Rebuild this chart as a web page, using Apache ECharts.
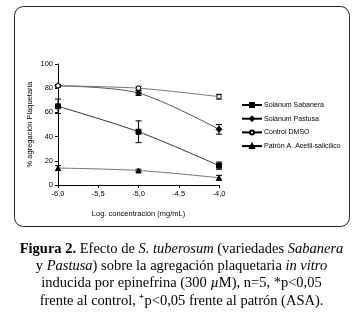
<!DOCTYPE html>
<html>
<head>
<meta charset="utf-8">
<script src="https://cdn.jsdelivr.net/npm/echarts@6/dist/echarts.min.js"></script>
<style>
  html, body { margin: 0; padding: 0; background: #fff; }
  #chart { width: 363px; height: 331px; }
</style>
</head>
<body>
<div id="chart"></div>
<script>
// log concentration (mg/mL)
var doses = [-6.0, -5.0, -4.0]
var seriesNames = ['Solanum Sabanera', 'Solanum Pastusa', 'Control DMSO', 'Patrón A. Acetil-salicilico']
var sabanera = [65, 44, 16]
var sabaneraErr = [6, 9, 3]
var pastusa = [82, 76, 46]
var pastusaErr = [1, 2, 4]
var control = [82, 80, 73]
var controlErr = [1, 1.5, 2]
var patron = [14, 12, 6]
var patronErr = [2, 1, 2]
var yTicks = [0, 20, 40, 60, 80, 100]

var captionLines = [
  '{b|Figura 2.} Efecto de {i|S. tuberosum} (variedades {i|Sabanera}',
  'y {i|Pastusa}) sobre la agregación plaquetaria {i|in vitro}',
  'inducida por epinefrina (300 {i|µ}M), n=5, *p<0,05',
  'frente al control, ⁺p<0,05 frente al patrón (ASA).'
]

var chart = echarts.init(document.getElementById('chart'))

function pairs (vals) {
  return vals.map(function (v, i) { return [doses[i], v] })
}

function errData (vals, errs) {
  return vals.map(function (v, i) { return [doses[i], v - errs[i], v + errs[i]] })
}

function errorSeries (vals, errs) {
  return {
    type: 'custom',
    silent: true,
    z: 3,
    data: errData(vals, errs),
    renderItem: function (params, api) {
      var lo = api.coord([api.value(0), api.value(1)])
      var hi = api.coord([api.value(0), api.value(2)])
      var w = 3
      var st = { stroke: '#000', lineWidth: 1 }
      return {
        type: 'group',
        children: [
          { type: 'line', shape: { x1: hi[0], y1: hi[1], x2: lo[0], y2: lo[1] }, style: st },
          { type: 'line', shape: { x1: hi[0] - w, y1: hi[1], x2: hi[0] + w, y2: hi[1] }, style: st },
          { type: 'line', shape: { x1: lo[0] - w, y1: lo[1], x2: lo[0] + w, y2: lo[1] }, style: st }
        ]
      }
    }
  }
}

function lineSeries (name, vals, symbol, size, lineColor, fill) {
  return {
    name: name,
    type: 'line',
    data: pairs(vals),
    smooth: 0.3,
    symbol: symbol,
    symbolSize: size,
    showSymbol: true,
    z: 4,
    lineStyle: { color: lineColor, width: 1 },
    itemStyle: { color: fill, borderColor: '#000', borderWidth: 1 }
  }
}

var tickFont = { fontFamily: 'Liberation Sans', fontSize: 7.5, color: '#000' }

var captionGraphics = captionLines.map(function (line, i) {
  return {
    type: 'text',
    x: 181.5,
    y: 249 + i * 17.3,
    silent: true,
    style: {
      text: line,
      align: 'center',
      verticalAlign: 'middle',
      fontFamily: 'Liberation Serif',
      fontSize: 14.5,
      fill: '#000',
      rich: {
        b: { fontFamily: 'Liberation Serif', fontSize: 14.5, fontWeight: 'bold' },
        i: { fontFamily: 'Liberation Serif', fontSize: 14.5, fontStyle: 'italic' }
      }
    }
  }
})

var option = {
  animation: false,
  backgroundColor: '#fff',
  grid: { left: 58, right: 144, top: 64, bottom: 146 },
  legend: {
    orient: 'vertical',
    left: 236,
    top: 96,
    itemGap: 5.7,
    itemWidth: 20,
    itemHeight: 5,
    textStyle: { fontFamily: 'Liberation Sans', fontSize: 7, lineHeight: 8, color: '#000', padding: [0, 0, 0, -3] },
    data: seriesNames.map(function (n) {
      return { name: n, itemStyle: { borderColor: '#000' }, lineStyle: { color: '#000' } }
    })
  },
  xAxis: {
    type: 'value',
    min: -6,
    max: -4,
    interval: 0.5,
    name: 'Log. concentración (mg/mL)',
    nameLocation: 'middle',
    nameGap: 25,
    nameTextStyle: { fontFamily: 'Liberation Sans', fontSize: 7.5, color: '#000' },
    axisLine: { lineStyle: { color: '#000', width: 1 } },
    axisTick: { length: 3, lineStyle: { color: '#000' } },
    splitLine: { show: false },
    axisLabel: Object.assign({ margin: 5, formatter: function (v) { return v.toFixed(1).replace('.', ',') } }, tickFont)
  },
  yAxis: {
    type: 'value',
    min: yTicks[0],
    max: yTicks[yTicks.length - 1],
    interval: 20,
    name: '% agregación Plaquetaria',
    nameLocation: 'middle',
    nameGap: 24,
    nameTextStyle: { fontFamily: 'Liberation Sans', fontSize: 7.5, color: '#000' },
    axisLine: { show: true, lineStyle: { color: '#000', width: 1 } },
    axisTick: { show: true, length: 3, lineStyle: { color: '#000' } },
    splitLine: { show: false },
    axisLabel: Object.assign({ margin: 5 }, tickFont)
  },
  series: [
    lineSeries(seriesNames[0], sabanera, 'rect', 5, '#333', '#000'),
    lineSeries(seriesNames[1], pastusa, 'diamond', 6, '#555', '#000'),
    lineSeries(seriesNames[2], control, 'circle', 4.5, '#777', '#fff'),
    lineSeries(seriesNames[3], patron, 'triangle', 5, '#777', '#000'),
    errorSeries(sabanera, sabaneraErr),
    errorSeries(pastusa, pastusaErr),
    errorSeries(control, controlErr),
    errorSeries(patron, patronErr)
  ],
  graphic: [
    {
      type: 'rect',
      shape: { x: 14.5, y: 6.5, width: 335, height: 220, r: 9 },
      style: { fill: 'none', stroke: '#222', lineWidth: 1 },
      silent: true
    }
  ].concat(captionGraphics)
}

chart.setOption(option)
</script>
</body>
</html>
